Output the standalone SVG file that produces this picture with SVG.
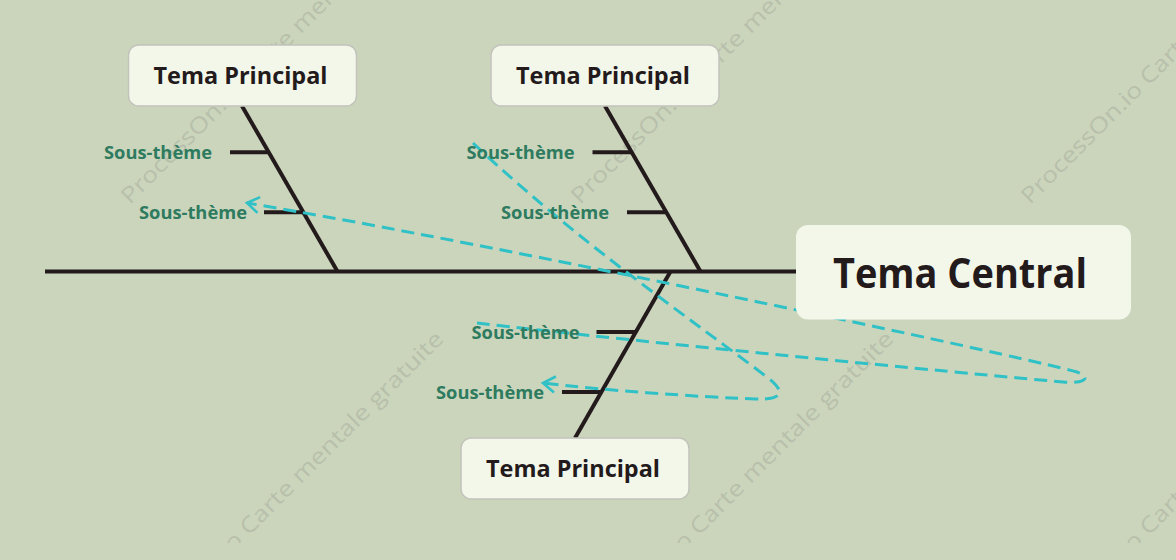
<svg xmlns="http://www.w3.org/2000/svg" width="1176" height="560" viewBox="0 0 1176 560">
  <style>
    .wm { font-family: "Open Sans", "Noto Sans", sans-serif; font-size: 22px; fill: #b8c0ab; }
    .box { fill: #f3f7ea; stroke: #c2c4bc; stroke-width: 1.5; }
    .cbox { fill: #f3f7ea; }
    .main { font-family: "Open Sans", "Noto Sans", sans-serif; font-weight: bold; font-size: 24px; fill: #231a1c; text-anchor: middle; }
    .central { font-family: "Open Sans", "Noto Sans", sans-serif; font-weight: bold; font-size: 42px; fill: #231a1c; text-anchor: middle; }
    .sub { font-family: "Open Sans", "Noto Sans", sans-serif; font-weight: bold; font-size: 18px; fill: #2e7b5f; text-anchor: end; }
    .bone { stroke: #231a1c; stroke-width: 4; fill: none; }
    .rel { stroke: #30c1c6; stroke-width: 3; fill: none; stroke-dasharray: 13 7; marker-end: url(#chev); }
  </style>
  <defs>
    <marker id="chev" markerUnits="userSpaceOnUse" viewBox="0 0 18 20" refX="15" refY="10" markerWidth="18" markerHeight="20" orient="auto">
      <path d="M3,2 L15,10 L3,18" fill="none" stroke="#30c1c6" stroke-width="2.6"/>
    </marker>
    <clipPath id="wmclip"><rect x="0" y="0" width="1176" height="543"/></clipPath>
  </defs>
  <rect x="0" y="0" width="1176" height="560" fill="#cbd5bc"/>

  <g id="watermarks" clip-path="url(#wmclip)">
    <text class="wm" transform="translate(130,205) rotate(-45)" textLength="445" lengthAdjust="spacingAndGlyphs">ProcessOn.io Carte mentale gratuite</text>
    <text class="wm" transform="translate(580,205) rotate(-45)" textLength="445" lengthAdjust="spacingAndGlyphs">ProcessOn.io Carte mentale gratuite</text>
    <text class="wm" transform="translate(1030,205) rotate(-45)" textLength="445" lengthAdjust="spacingAndGlyphs">ProcessOn.io Carte mentale gratuite</text>
    <text class="wm" transform="translate(130,655) rotate(-45)" textLength="445" lengthAdjust="spacingAndGlyphs">ProcessOn.io Carte mentale gratuite</text>
    <text class="wm" transform="translate(580,655) rotate(-45)" textLength="445" lengthAdjust="spacingAndGlyphs">ProcessOn.io Carte mentale gratuite</text>
    <text class="wm" transform="translate(1030,655) rotate(-45)" textLength="445" lengthAdjust="spacingAndGlyphs">ProcessOn.io Carte mentale gratuite</text>
  </g>

  <g id="connectors">
    <line class="bone" x1="45" y1="271.5" x2="797" y2="271.5"/>
    <line class="bone" x1="242" y1="106" x2="337.5" y2="271.5"/>
    <line class="bone" x1="605" y1="106" x2="700.5" y2="271.5"/>
    <line class="bone" x1="670.5" y1="271.5" x2="575" y2="438"/>
    <line class="bone" x1="230" y1="152.3" x2="268" y2="152.3"/>
    <line class="bone" x1="264" y1="212.3" x2="303" y2="212.3"/>
    <line class="bone" x1="592.5" y1="152.3" x2="631.5" y2="152.3"/>
    <line class="bone" x1="627" y1="212.3" x2="665.5" y2="212.3"/>
    <line class="bone" x1="596.5" y1="332" x2="635.5" y2="332"/>
    <line class="bone" x1="562" y1="392" x2="601.5" y2="392"/>
    <path class="rel" d="M473,143 C573,237 667,302 767,377 C785,391 785,400 755,399 C700,397 600,390 543,383"/>
    <path class="rel" d="M477,323 C650,343 950,372 1063,382 C1085,384 1092,378 1077,372 C1020,356 500,245 247,203"/>
  </g>

  <g id="central">
    <rect class="cbox" x="796" y="225" width="335" height="94.5" rx="12"/>
    <text class="central" x="960" y="287.5" textLength="254" lengthAdjust="spacingAndGlyphs">Tema Central</text>
  </g>

  <g id="main-top-left">
    <rect class="box" x="128.5" y="45" width="228" height="61" rx="10"/>
    <text class="main" x="240.5" y="84" textLength="174" lengthAdjust="spacingAndGlyphs">Tema Principal</text>
  </g>
  <g id="main-top-middle">
    <rect class="box" x="491" y="45" width="228" height="61" rx="10"/>
    <text class="main" x="603" y="84" textLength="174" lengthAdjust="spacingAndGlyphs">Tema Principal</text>
  </g>
  <g id="main-bottom">
    <rect class="box" x="461" y="438" width="228" height="61" rx="10"/>
    <text class="main" x="573" y="477" textLength="174" lengthAdjust="spacingAndGlyphs">Tema Principal</text>
  </g>

  <g id="sub-1"><text class="sub" x="212" y="158.5" textLength="108" lengthAdjust="spacingAndGlyphs">Sous-thème</text></g>
  <g id="sub-2"><text class="sub" x="247" y="218.5" textLength="108" lengthAdjust="spacingAndGlyphs">Sous-thème</text></g>
  <g id="sub-3"><text class="sub" x="574.5" y="158.5" textLength="108" lengthAdjust="spacingAndGlyphs">Sous-thème</text></g>
  <g id="sub-4"><text class="sub" x="609" y="218.5" textLength="108" lengthAdjust="spacingAndGlyphs">Sous-thème</text></g>
  <g id="sub-5"><text class="sub" x="579.5" y="338.5" textLength="108" lengthAdjust="spacingAndGlyphs">Sous-thème</text></g>
  <g id="sub-6"><text class="sub" x="544" y="398.5" textLength="108" lengthAdjust="spacingAndGlyphs">Sous-thème</text></g>
</svg>
